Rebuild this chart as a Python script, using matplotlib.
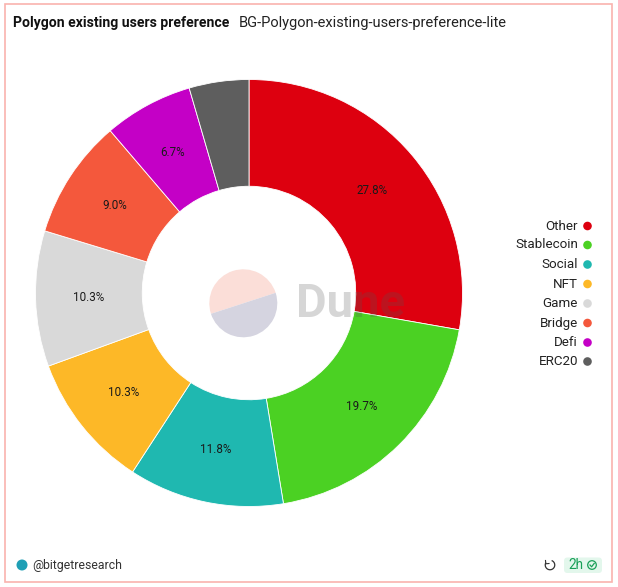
#!/usr/bin/env python3
# recreate the Dune donut chart

import matplotlib
matplotlib.use('Agg')
import matplotlib.pyplot as plt
from matplotlib.patches import Circle, FancyBboxPatch, Rectangle, Wedge, Arc

# data
categories = ['Other', 'Stablecoin', 'Social', 'NFT', 'Game', 'Bridge', 'Defi', 'ERC20']
shares = [27.76, 19.66, 11.76, 10.26, 10.26, 9.04, 6.74, 4.52]
colors = ['#dd000f', '#4bd123', '#1fb8b0', '#fdb827', '#d9d9d9', '#f4583c', '#c400c6', '#5e5e5e']
TITLE = 'Polygon existing users preference'
SUBTITLE = 'BG-Polygon-existing-users-preference-lite'
AUTHOR = '@bitgetresearch'
AGE = '2h'

W, H = 618, 587
FONT = 'Roboto'
plt.rcParams['font.family'] = [FONT, 'DejaVu Sans']

fig = plt.figure(figsize=(W / 100, H / 100), dpi=100, facecolor='white')

# overlay in pixel coordinates for the frame, texts and icons
bg = fig.add_axes([0, 0, 1, 1], zorder=0)
bg.set_xlim(0, W)
bg.set_ylim(H, 0)
bg.axis('off')
bg.add_patch(Rectangle((5, 4), 607, 578, fill=False, edgecolor='#f9b3ae', linewidth=1.2))

# donut
cx, cy, r = 249, 293, 213.5
ax = fig.add_axes([(cx - r) / W, 1 - (cy + r) / H, 2 * r / W, 2 * r / H], zorder=1)
ax.patch.set_alpha(0)
wedges, _, autotexts = ax.pie(
    shares, colors=colors, startangle=90, counterclock=False, radius=1,
    autopct='%.1f%%', pctdistance=0.75,
    wedgeprops={'width': 0.5, 'edgecolor': 'white', 'linewidth': 0.6},
    textprops={'fontsize': 8.4, 'color': '#1a1a1a'})
autotexts[-1].set_visible(False)
ax.set_xlim(-1, 1)
ax.set_ylim(-1, 1)

# top layer: watermark and labels
top = fig.add_axes([0, 0, 1, 1], zorder=2)
top.set_xlim(0, W)
top.set_ylim(H, 0)
top.axis('off')
top.patch.set_alpha(0)

# watermark logo, y axis is flipped so angles run clockwise on screen
top.add_patch(Wedge((243.3, 303.3), 34, 162, 342, facecolor='#fbded8', edgecolor='none'))
top.add_patch(Wedge((243.3, 303.3), 34, -18, 162, facecolor='#d5d4e0', edgecolor='none'))
top.text(296, 304, 'Dune', fontsize=34, fontweight='bold', color='#555555', alpha=0.24,
         ha='left', va='center')

# title line
top.text(13, 23, TITLE, fontsize=10.05, fontweight='bold', color='#111111', ha='left', va='center')
top.text(239, 23, SUBTITLE, fontsize=10.55, color='#222222', ha='left', va='center')

# legend
legend_y = [226, 245, 264.5, 284, 303.5, 323, 342.5, 361.5]
for name, col, y in zip(categories, colors, legend_y):
    top.text(578, y, name, fontsize=9.6, color='#222222', ha='right', va='center')
    top.add_patch(Circle((587.5, y), 4.3, facecolor=col, edgecolor='none'))

# footer
top.add_patch(Circle((22, 565), 5.5, facecolor='#1f9fb5', edgecolor='none'))
top.text(32, 565, AUTHOR, fontsize=8.8, color='#333333', ha='left', va='center')
top.add_patch(Arc((550, 565), 9.5, 9.5, theta1=-70, theta2=210, edgecolor='#333333', linewidth=0.9))
top.plot([545.5, 545.8, 549], [560.5, 563.8, 563.5], color='#333333', linewidth=0.8)
top.add_patch(FancyBboxPatch((564, 557.5), 38, 15.5, boxstyle='round,pad=0,rounding_size=3.5',
                             facecolor='#e3f7ec', edgecolor='none'))
top.text(568.5, 565, AGE, fontsize=9.8, color='#18a058', ha='left', va='center')
top.add_patch(Circle((592, 565), 4.3, facecolor='none', edgecolor='#18a058', linewidth=0.9))
top.plot([590, 591.6, 594.2], [565, 566.8, 563.4], color='#18a058', linewidth=0.9)

fig.savefig('out.png', dpi=100, facecolor='white')
